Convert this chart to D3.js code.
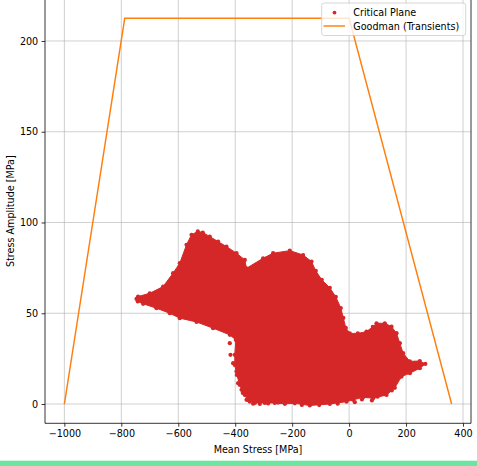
<!DOCTYPE html>
<html>
<head>
<meta charset="utf-8">
<script src="https://cdn.jsdelivr.net/npm/d3@7"></script>
<style>
  html, body { margin: 0; padding: 0; background: #fff; }
  svg { display: block; font-family: "DejaVu Sans", sans-serif; }
</style>
</head>
<body>
<svg id="chart" width="477" height="466"></svg>
<script>
// tick values
const xTicks = [-1000, -800, -600, -400, -200, 0, 200, 400];
const yTicks = [0, 50, 100, 150, 200];

// Goodman (Transients) envelope
const goodmanMean = [-1000, -788, 0, 360];
const goodmanAmp = [0, 212.5, 212.5, 0];

// outline of the dense "Critical Plane" cloud
const cloudMean = [-746.7, -741.1, -700, -653.3, -618.2, -594.6, -571.1, -553.5, -531.4, -513.8,
  -489.3, -460.1, -430.6, -395.5, -366.3, -360.4, -302.1, -266.9, -208.3, -161.6,
  -132.1, -117, -95.9, -67.8, -46.7, -29.2, -20.4, -11.6, 2.5, 30.6,
  61.1, 83.2, 96.2, 125.4, 148.9, 166.5, 178.1, 189.7, 213.2, 248.3,
  267.6, 248.3, 213.2, 184, 160.5, 131.4, 84.3, 49.2, 14, -9.1,
  -67.8, -138, -190.7, -225.8, -261, -296.1, -331.2, -355.8, -373.4, -383.9,
  -394.4, -401.5, -401.5, -397.9, -419, -477.7, -536, -594.6, -629.8, -676.5,
  -723.5, -742.2];
const cloudAmp = [57.9, 59.2, 61.0, 64.7, 72.1, 77.6, 87.7, 93.2, 95.1, 94.5,
  92.2, 89.5, 86.7, 83.1, 79.4, 74.8, 80.3, 83.1, 84.5, 82.1,
  78.5, 73.3, 68.4, 64, 59, 52.9, 47.4, 41.9, 38.9, 38.9,
  39.9, 42.5, 44.5, 44.5, 42.6, 39, 33.5, 28, 23.5, 23.7,
  22.1, 19.7, 17, 15.1, 8.9, 5, 3.2, 3.7, 2.3, 1.3,
  0, -0.8, 0.4, 0.1, 0.6, 0.6, 0.6, 2.3, 6.1, 10.5,
  16, 21.5, 27.1, 35.3, 38.1, 41.8, 45.2, 47.3, 50, 52.8,
  55.2, 56.5];

// loose points around the lower-left and bottom edge of the cloud
const dotMean = [-419, -416.6, -407.4, -395.5, -389.9, -377.9, -366.3, -360.4, -348.8, -337.2,
  -313.6, -284.5, -249.4, -225.8, -166, -105, -40, 20, 45, 80,
  100, 125, 150];
const dotAmp = [33.5, 27.1, 22.5, 17.9, 11.5, 7.8, 5, 2.3, 1.3, 0.2,
  0.0, 0.3, 0.8, 0.4, -0.5, -0.6, 0.2, 1.0, 2.5, 2.0,
  4.0, 5.5, 7.5];

const svg = d3.select('#chart');
const width = 477;
const height = 466;

// plot area
const area = { left: 45, right: 471, top: -1, bottom: 423.3 };

const xScale = d3.scaleLinear().domain([-1068, 428]).range([area.left, area.right]);
const yScale = d3.scaleLinear().domain([-10.625, 223.125]).range([area.bottom, area.top]);

const red = '#d62728';
const orange = '#ff7f0e';
const fontSize = 9.6;

svg.append('defs')
  .append('clipPath')
  .attr('id', 'plot-clip')
  .append('rect')
  .attr('x', area.left)
  .attr('y', area.top)
  .attr('width', area.right - area.left)
  .attr('height', area.bottom - area.top);

// grid
const grid = svg.append('g').attr('class', 'grid');
grid.selectAll('.gx')
  .data(xTicks)
  .enter()
  .append('line')
  .attr('x1', (d) => xScale(d))
  .attr('x2', (d) => xScale(d))
  .attr('y1', area.top)
  .attr('y2', area.bottom)
  .attr('stroke', '#b0b0b0')
  .attr('stroke-opacity', 0.6)
  .attr('stroke-width', 1);
grid.selectAll('.gy')
  .data(yTicks)
  .enter()
  .append('line')
  .attr('x1', area.left)
  .attr('x2', area.right)
  .attr('y1', (d) => yScale(d))
  .attr('y2', (d) => yScale(d))
  .attr('stroke', '#b0b0b0')
  .attr('stroke-opacity', 0.6)
  .attr('stroke-width', 1);

const plot = svg.append('g').attr('clip-path', 'url(#plot-clip)');

// scatter cloud
const cloudPts = cloudMean.map((m, i) => [m, cloudAmp[i]]);
const cloudLine = d3.line()
  .x((d) => xScale(d[0]))
  .y((d) => yScale(d[1]))
  .curve(d3.curveLinearClosed);

plot.append('path')
  .datum(cloudPts)
  .attr('d', cloudLine)
  .attr('fill', red)
  .attr('stroke', red)
  .attr('stroke-width', 1);

plot.selectAll('.edge-dot')
  .data(cloudPts)
  .enter()
  .append('circle')
  .attr('class', 'edge-dot')
  .attr('cx', (d) => xScale(d[0]))
  .attr('cy', (d) => yScale(d[1]))
  .attr('r', 2.1)
  .attr('fill', red);

const dots = dotMean.map((m, i) => [m, dotAmp[i]]);
plot.selectAll('.dot')
  .data(dots)
  .enter()
  .append('circle')
  .attr('class', 'dot')
  .attr('cx', (d) => xScale(d[0]))
  .attr('cy', (d) => yScale(d[1]))
  .attr('r', 2.1)
  .attr('fill', red);

// Goodman line
const goodmanPts = goodmanMean.map((m, i) => [m, goodmanAmp[i]]);
plot.append('path')
  .datum(goodmanPts)
  .attr('d', d3.line().x((d) => xScale(d[0])).y((d) => yScale(d[1])))
  .attr('fill', 'none')
  .attr('stroke', orange)
  .attr('stroke-width', 1.45);

// axes
const fmt = (d) => (d < 0 ? '\u2212' + Math.abs(d) : '' + d);

const xAxis = svg.append('g')
  .attr('transform', `translate(0,${area.bottom})`)
  .call(d3.axisBottom(xScale).tickValues(xTicks).tickFormat(fmt).tickSize(3.4).tickPadding(3.4));
xAxis.select('.domain').remove();

const yAxis = svg.append('g')
  .attr('transform', `translate(${area.left},0)`)
  .call(d3.axisLeft(yScale).tickValues(yTicks).tickFormat(fmt).tickSize(3.4).tickPadding(3.4));
yAxis.select('.domain').remove();

svg.selectAll('.tick text')
  .attr('font-family', '"DejaVu Sans", sans-serif')
  .attr('font-size', fontSize)
  .attr('fill', '#000');
svg.selectAll('.tick line')
  .attr('stroke', '#000')
  .attr('stroke-width', 0.8);

// spines
const spines = svg.append('g').attr('fill', 'none').attr('stroke', '#000').attr('stroke-width', 0.8);
spines.append('line').attr('x1', area.left).attr('x2', area.left).attr('y1', area.top).attr('y2', area.bottom);
spines.append('line').attr('x1', area.right).attr('x2', area.right).attr('y1', area.top).attr('y2', area.bottom);
spines.append('line').attr('x1', area.left).attr('x2', area.right).attr('y1', area.bottom).attr('y2', area.bottom);
spines.append('line').attr('x1', area.left).attr('x2', area.right).attr('y1', area.top).attr('y2', area.top);

// axis titles
svg.append('text')
  .attr('x', (area.left + area.right) / 2)
  .attr('y', 452.5)
  .attr('text-anchor', 'middle')
  .attr('font-size', fontSize)
  .attr('fill', '#000')
  .text('Mean Stress [MPa]');

svg.append('text')
  .attr('transform', `translate(13.5,${(area.top + area.bottom) / 2}) rotate(-90)`)
  .attr('text-anchor', 'middle')
  .attr('font-size', fontSize)
  .attr('fill', '#000')
  .text('Stress Amplitude [MPa]');

// legend
const legend = svg.append('g').attr('class', 'legend');
legend.append('rect')
  .attr('x', 321.7)
  .attr('y', 3)
  .attr('width', 144)
  .attr('height', 32.5)
  .attr('rx', 2.5)
  .attr('fill', '#fff')
  .attr('fill-opacity', 0.8)
  .attr('stroke', '#cccccc')
  .attr('stroke-width', 0.8);

legend.append('circle')
  .attr('cx', 334.5)
  .attr('cy', 12.6)
  .attr('r', 1.9)
  .attr('fill', red);
legend.append('text')
  .attr('x', 353.3)
  .attr('y', 16.2)
  .attr('font-size', fontSize)
  .attr('fill', '#000')
  .text('Critical Plane');

legend.append('line')
  .attr('x1', 323.5)
  .attr('x2', 345)
  .attr('y1', 26)
  .attr('y2', 26)
  .attr('stroke', orange)
  .attr('stroke-width', 1.45);
legend.append('text')
  .attr('x', 353.3)
  .attr('y', 29.5)
  .attr('font-size', fontSize)
  .attr('fill', '#000')
  .text('Goodman (Transients)');

// bottom strip
svg.append('rect')
  .attr('x', 0)
  .attr('y', 460.7)
  .attr('width', width)
  .attr('height', height - 460.7)
  .attr('fill', '#6ce5a0');
</script>
</body>
</html>
